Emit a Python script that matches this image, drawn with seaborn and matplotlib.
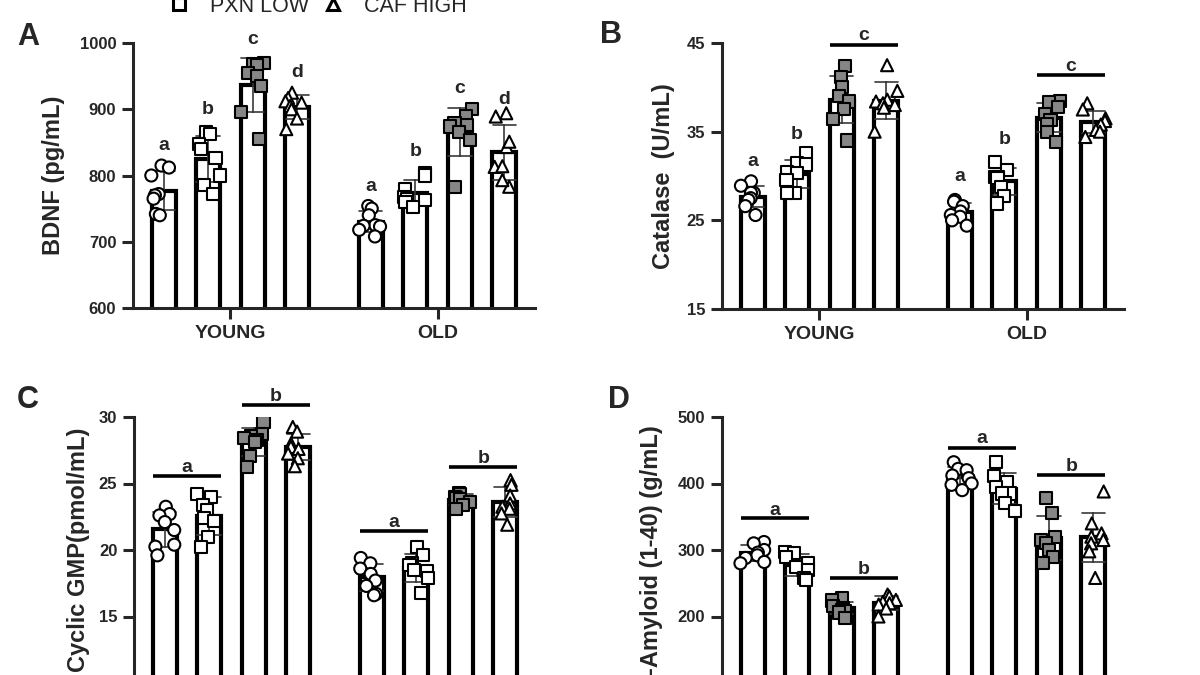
import numpy as np
import pandas as pd
import matplotlib
matplotlib.use("Agg")
import matplotlib.pyplot as plt
import seaborn as sns
from matplotlib.lines import Line2D

# ---------------- data ----------------
AGES = ["YOUNG", "OLD"]
TREATMENTS = ["CONTROL", "PXN LOW", "PXN HIGH", "CAF HIGH"]
LEGEND_SHOWN = ["PXN LOW", "CAF HIGH"]

# each list: [young values, old values]
BDNF_CONTROL = [[815, 812, 800, 772, 770, 765, 742, 740], [754, 750, 740, 725, 724, 723, 718, 708]]
BDNF_PXN_LOW = [[866, 862, 848, 840, 826, 800, 786, 772], [803, 800, 780, 768, 765, 763, 760, 752]]
BDNF_PXN_HIGH = [[970, 968, 966, 955, 950, 935, 896, 855], [901, 889, 879, 876, 874, 866, 854, 783]]
BDNF_CAF_HIGH = [[925, 917, 912, 910, 905, 900, 886, 870], [894, 889, 843, 851, 813, 814, 783, 793]]

CAT_CONTROL = [[29.4, 28.9, 28.1, 28.1, 27.5, 27.3, 26.6, 25.6], [27.3, 27.1, 26.6, 26.0, 25.6, 25.4, 25.0, 24.4]]
CAT_PXN_LOW = [[32.6, 31.5, 31.3, 30.5, 30.3, 29.6, 28.1, 28.1], [31.6, 30.7, 29.9, 29.9, 29.8, 28.8, 27.7, 26.9]]
CAT_PXN_HIGH = [[42.4, 41.2, 40.0, 39.0, 38.4, 37.6, 36.4, 34.0], [38.5, 38.3, 37.8, 37.0, 36.3, 35.9, 35.0, 33.8]]
CAT_CAF_HIGH = [[42.5, 39.6, 38.6, 38.4, 38.2, 38.0, 37.7, 35.0], [38.2, 37.5, 36.5, 36.2, 35.8, 35.2, 35.0, 34.4]]

CGMP_CONTROL = [[23.25, 22.7, 22.6, 22.1, 21.5, 20.4, 20.25, 19.6], [19.4, 19.0, 18.6, 18.2, 17.7, 17.3, 16.7, 16.6]]
CGMP_PXN_LOW = [[24.2, 24.0, 23.4, 23.0, 22.4, 22.2, 21.0, 20.2], [20.25, 19.6, 19.0, 18.9, 18.5, 18.4, 17.9, 16.75]]
CGMP_PXN_HIGH = [[29.6, 28.75, 28.6, 28.4, 28.25, 28.1, 27.1, 26.25], [24.3, 24.2, 24.0, 23.9, 23.8, 23.6, 23.4, 23.1]]
CGMP_CAF_HIGH = [[29.25, 28.9, 28.0, 27.75, 27.6, 27.25, 26.9, 26.3], [25.25, 24.9, 24.1, 23.5, 23.25, 23.1, 22.75, 21.9]]

AMY_CONTROL = [[312, 310, 300, 296, 292, 288, 282, 280], [432, 422, 420, 412, 408, 400, 398, 390]]
AMY_PXN_LOW = [[297, 295, 290, 280, 275, 270, 258, 255], [432, 411, 402, 395, 385, 385, 370, 358]]
AMY_PXN_HIGH = [[228, 224, 216, 212, 210, 208, 206, 198], [378, 355, 320, 315, 310, 300, 290, 280]]
AMY_CAF_HIGH = [[233, 230, 225, 222, 220, 218, 212, 200], [388, 340, 325, 320, 315, 310, 298, 258]]

# significance letters over single bars: (age index, treatment index, letter, y)
BDNF_LETTERS = [(0, 0, "a", 845), (0, 1, "b", 899), (0, 2, "c", 1006), (0, 3, "d", 955),
                (1, 0, "a", 783), (1, 1, "b", 836), (1, 2, "c", 932), (1, 3, "d", 914)]
CAT_LETTERS = [(0, 0, "a", 31.6), (0, 1, "b", 34.7), (1, 0, "a", 30.0), (1, 1, "b", 34.1)]
# letters over bracket lines: (age, first treatment, last treatment, letter, line y, text y)
CAT_LINES = [(0, 2, 3, "c", 44.8, 45.8), (1, 2, 3, "c", 41.4, 42.4)]
CGMP_LINES = [(0, 0, 1, "a", 25.55, 26.2), (0, 2, 3, "b", 30.9, 31.55),
              (1, 0, 1, "a", 21.45, 22.05), (1, 2, 3, "b", 26.25, 26.9)]
AMY_LINES = [(0, 0, 1, "a", 347.5, 359), (0, 2, 3, "b", 257.5, 271),
             (1, 0, 1, "a", 454, 467.5), (1, 2, 3, "b", 412.5, 426)]

# ---------------- style ----------------
MARKERS = ["o", "s", "s", "^"]
FILLS = ["white", "white", "#868686", "white"]
BAR_WIDTH = 0.86
BAR_GAP = 0.46
HALF_BAR = BAR_WIDTH / 4 * (1 - BAR_GAP) / 2

sns.set_style("ticks")
plt.rcParams["font.family"] = ["Liberation Sans", "DejaVu Sans"]
plt.rcParams["font.weight"] = "bold"
plt.rcParams["axes.labelweight"] = "bold"


def long_df(series):
    rows = []
    for t, vals in zip(TREATMENTS, series):
        for ai, age in enumerate(AGES):
            for v in vals[ai]:
                rows.append({"age": age, "treatment": t, "value": v})
    return pd.DataFrame(rows)


def bar_x(age_idx, treat_idx):
    return age_idx + (treat_idx - 1.5) * BAR_WIDTH / 4


def draw_panel(ax, series, ylim, yticks, ylabel, label_x, seed):
    df = long_df(series)
    sns.barplot(data=df, x="age", y="value", hue="treatment", order=AGES,
                hue_order=TREATMENTS, palette={t: "white" for t in TREATMENTS},
                width=BAR_WIDTH, gap=BAR_GAP, errorbar="sd", capsize=0.45,
                err_kws={"color": "#3a3a3a", "linewidth": 1.2},
                edgecolor="black", linewidth=3, legend=False, ax=ax)
    np.random.seed(seed)
    for t, mk, fc in zip(TREATMENTS, MARKERS, FILLS):
        sns.stripplot(data=df[df["treatment"] == t], x="age", y="value",
                      hue="treatment", order=AGES, hue_order=TREATMENTS,
                      palette={tt: fc for tt in TREATMENTS}, dodge=True,
                      jitter=0.22, marker=mk, size=8.7, edgecolor="black",
                      linewidth=1.5, legend=False, ax=ax, zorder=4)
    # match strip dodge spacing to the bar spacing
    for coll in ax.collections:
        off = np.asarray(coll.get_offsets()).copy()
        if len(off):
            c = np.round(off[:, 0])
            off[:, 0] = c + (off[:, 0] - c) * (BAR_WIDTH / 0.8)
            coll.set_offsets(off)
    ax.set_xlim(-0.47, 1.47)
    ax.set_ylim(*ylim)
    ax.set_yticks(yticks)
    ax.set_xlabel("")
    ax.set_ylabel(ylabel, fontsize=17, fontweight="bold")
    ax.yaxis.set_label_coords(label_x, 0.5)
    sns.despine(ax=ax)
    for s in ("left", "bottom"):
        ax.spines[s].set_linewidth(2.2)
    ax.tick_params(axis="both", width=2.2, length=8, pad=4)
    ax.tick_params(axis="y", labelsize=12)
    ax.tick_params(axis="x", labelsize=14)
    for lab in ax.get_xticklabels() + ax.get_yticklabels():
        lab.set_fontweight("bold")


def add_letters(ax, letters):
    for ai, ti, let, y in letters:
        ax.text(bar_x(ai, ti), y, let, ha="center", va="center",
                fontsize=14, fontweight="bold", clip_on=False)


def add_lines(ax, lines):
    for ai, t0, t1, let, yl, yt in lines:
        x0 = bar_x(ai, t0) - HALF_BAR
        x1 = bar_x(ai, t1) + HALF_BAR
        ax.plot([x0, x1], [yl, yl], color="black", lw=2.6, clip_on=False,
                solid_capstyle="butt")
        ax.text((x0 + x1) / 2, yt, let, ha="center", va="center",
                fontsize=14, fontweight="bold", clip_on=False)


fig = plt.figure(figsize=(12, 6.75), dpi=100)
W, H = 1200, 675
axA = fig.add_axes([133 / W, 1 - 308 / H, 402 / W, 265 / H])
axB = fig.add_axes([722 / W, 1 - 309 / H, 402 / W, 266 / H])
axC = fig.add_axes([134 / W, 1 - 683 / H, 402 / W, 266 / H])
axD = fig.add_axes([722 / W, 1 - 683 / H, 402 / W, 266 / H])

draw_panel(axA, [BDNF_CONTROL, BDNF_PXN_LOW, BDNF_PXN_HIGH, BDNF_CAF_HIGH],
           (600, 1000), [600, 700, 800, 900, 1000], "BDNF (pg/mL)", -0.169, 1)
add_letters(axA, BDNF_LETTERS)

draw_panel(axB, [CAT_CONTROL, CAT_PXN_LOW, CAT_PXN_HIGH, CAT_CAF_HIGH],
           (15, 45), [15, 25, 35, 45], "Catalase  (U/mL)", -0.1175, 2)
add_letters(axB, CAT_LETTERS)
add_lines(axB, CAT_LINES)

draw_panel(axC, [CGMP_CONTROL, CGMP_PXN_LOW, CGMP_PXN_HIGH, CGMP_CAF_HIGH],
           (10, 30), [10, 15, 20, 25, 30], "Cyclic GMP(pmol/mL)", -0.109, 3)
add_lines(axC, CGMP_LINES)

draw_panel(axD, [AMY_CONTROL, AMY_PXN_LOW, AMY_PXN_HIGH, AMY_CAF_HIGH],
           (100, 500), [100, 200, 300, 400, 500], "-Amyloid (1-40) (g/mL)", -0.1475, 4)
add_lines(axD, AMY_LINES)

# panel letters
for txt, x, y in [("A", 17, 45), ("B", 600, 43), ("C", 17, 408), ("D", 608, 408)]:
    fig.text(x / W, 1 - y / H, txt, fontsize=22, fontweight="bold",
             ha="left", va="baseline")

# legend (top, partly outside the canvas)
handles = [Line2D([], [], ls="none", marker=MARKERS[TREATMENTS.index(t)],
                  mfc=FILLS[TREATMENTS.index(t)], mec="black", mew=2.2, ms=8)
           for t in LEGEND_SHOWN]
fig.legend(handles, LEGEND_SHOWN, loc="lower left",
           bbox_to_anchor=(168 / W, 1 - 17 / H), ncol=2, frameon=False,
           prop={"size": 15.5, "weight": "normal"}, handlelength=1.0,
           handletextpad=0.95, columnspacing=0.6, borderpad=0, borderaxespad=0)

fig.savefig("out.png", dpi=100)
